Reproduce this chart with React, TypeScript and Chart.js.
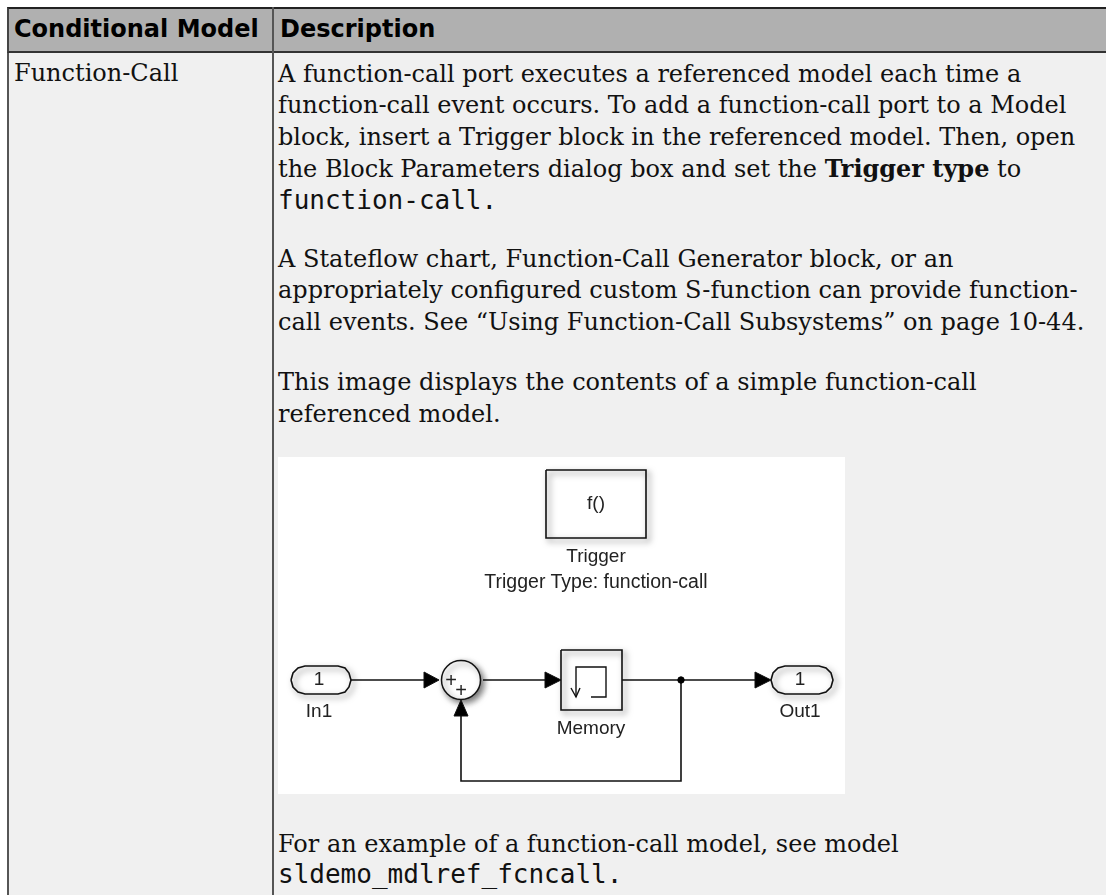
import React, { useEffect, useRef } from "react";
import { Chart, registerables } from "chart.js";

Chart.register(...registerables);

type P = { x: number; y: number };
const pts = (a: number[][]): P[] => a.map(([x, y]) => ({ x, y }));

const headers = ["Conditional Model", "Description"];
const rowLabel = "Function-Call";
const proseTop = [
  { y: 61, t: "A function-call port executes a referenced model each time a" },
  { y: 92, t: "function-call event occurs. To add a function-call port to a Model" },
  { y: 124, t: "block, insert a Trigger block in the referenced model. Then, open" },
  { y: 246, t: "A Stateflow chart, Function-Call Generator block, or an" },
  { y: 277, t: "appropriately configured custom S-function can provide function-" },
  { y: 309, t: "call events. See \u201CUsing Function-Call Subsystems\u201D on page 10-44." },
  { y: 369, t: "This image displays the contents of a simple function-call" },
  { y: 401, t: "referenced model." },
  { y: 831, t: "For an example of a function-call model, see model" },
];

const triggerBox = [[268, 13], [368, 13], [368, 81], [268, 81], [268, 13]];
const memoryBox = [[283, 193], [344, 193], [344, 253], [283, 253], [283, 193]];
const memoryIcon = [[298, 240], [298, 210], [328, 210], [328, 240], [313, 240]];
const memoryIconArrow = [[293, 231], [298, 240], [302, 231]];
const inPort = [[13, 223], [15, 216], [20, 211], [27, 209], [60, 209], [67, 211], [71, 216], [73, 223], [71, 230], [67, 235], [60, 237], [27, 237], [20, 235], [15, 230], [13, 223]];
const outPort = [[493, 223], [495, 216], [500, 211], [507, 209], [541, 209], [548, 211], [553, 216], [555, 223], [553, 230], [548, 235], [541, 237], [507, 237], [500, 235], [495, 230], [493, 223]];
const wireIn = [[73, 223], [150, 223]];
const wireMid = [[205, 223], [272, 223]];
const wireOut = [[344, 223], [480, 223]];
const wireBack = [[403, 223], [403, 324], [183, 324], [183, 256]];
const arrowIn = [[146, 215], [161, 223], [146, 231], [146, 215]];
const arrowMid = [[267, 215], [283, 223], [267, 231], [267, 215]];
const arrowOut = [[477, 215], [493, 223], [477, 231], [477, 215]];
const arrowBack = [[176, 259], [183, 243], [190, 259], [176, 259]];
const sumNode = [[183, 223]];
const junction = [[403, 223]];

const diagramLabels = [
  { x: 318, y: 46, t: "f()", s: 19 },
  { x: 318, y: 99, t: "Trigger", s: 19 },
  { x: 318, y: 124, t: "Trigger Type: function-call", s: 19.5 },
  { x: 41, y: 254, t: "In1", s: 19 },
  { x: 41, y: 222, t: "1", s: 19 },
  { x: 522, y: 254, t: "Out1", s: 19 },
  { x: 522, y: 222, t: "1", s: 19 },
  { x: 313, y: 271, t: "Memory", s: 19 },
  { x: 173, y: 223, t: "+", s: 20 },
  { x: 183, y: 233, t: "+", s: 20 },
];

const line = (data: number[][], extra: object = {}) => ({
  data: pts(data),
  showLine: true,
  pointRadius: 0,
  borderColor: "#111",
  borderWidth: 1.6,
  fill: false,
  ...extra,
});

const shadowPlugin = {
  id: "softShadow",
  beforeDatasetDraw(chart: any, args: any) {
    const ds = chart.data.datasets[args.index];
    if (ds.softShadow) {
      const c = chart.ctx;
      c.save();
      c.shadowColor = "rgba(0,0,0,0.55)";
      c.shadowBlur = 6;
      c.shadowOffsetX = 3;
      c.shadowOffsetY = 3;
    }
  },
  afterDatasetDraw(chart: any, args: any) {
    if (chart.data.datasets[args.index].softShadow) chart.ctx.restore();
  },
};

const serif = '"DejaVu Serif"';

export default function App() {
  const ref = useRef<HTMLCanvasElement>(null);
  useEffect(() => {
    if (!ref.current) return;
    const boxFill = { fill: "shape", backgroundColor: "#fff", softShadow: true };
    const arrow = { fill: "shape", backgroundColor: "#000", borderWidth: 1 };
    // Chart.js paints the first dataset last, so this list runs top mark first.
    const chart = new Chart(ref.current, {
      type: "scatter",
      data: {
        datasets: [
          { data: pts(junction), pointRadius: 3.2, pointBackgroundColor: "#000", pointBorderColor: "#000" },
          line(arrowBack, arrow),
          line(arrowOut, arrow),
          line(arrowMid, arrow),
          line(arrowIn, arrow),
          line(memoryIconArrow, { borderWidth: 1.4 }),
          line(memoryIcon, { borderWidth: 1.4 }),
          line(outPort, boxFill),
          line(inPort, boxFill),
          line(memoryBox, boxFill),
          line(triggerBox, boxFill),
          {
            data: pts(sumNode),
            pointRadius: 19.5,
            pointHoverRadius: 19.5,
            pointBackgroundColor: "#fff",
            pointBorderColor: "#111",
            pointBorderWidth: 1.5,
            softShadow: true,
          },
          line(wireBack),
          line(wireOut),
          line(wireMid),
          line(wireIn),
        ] as any,
      },
      options: {
        animation: false,
        responsive: false,
        events: [],
        layout: { padding: 0, autoPadding: false },
        plugins: { legend: { display: false }, tooltip: { enabled: false } },
        scales: {
          x: { type: "linear", min: 0, max: 567, display: false },
          y: { type: "linear", min: 0, max: 337, reverse: true, display: false },
        },
      } as any,
      plugins: [shadowPlugin],
    });
    return () => chart.destroy();
  }, []);

  const text: React.CSSProperties = {
    position: "absolute",
    whiteSpace: "nowrap",
    fontFamily: serif,
    fontSize: 24,
    lineHeight: "26px",
    color: "#111",
  };
  const mono: React.CSSProperties = { fontFamily: '"DejaVu Sans Mono"', fontSize: 26 };

  return (
    <div style={{ position: "fixed", left: 0, top: 0, width: 1106, height: 895, overflow: "hidden", background: "#fff" }}>
      <div style={{ position: "absolute", left: 7, top: 7, width: 1099, height: 46, background: "#b0b0b0", borderTop: "2px solid #222", borderBottom: "2px solid #333", borderLeft: "2px solid #444", boxSizing: "border-box" }} />
      <div style={{ position: "absolute", left: 7, top: 53, width: 1099, height: 842, background: "#f0f0f0", borderLeft: "2px solid #555", boxSizing: "border-box" }} />
      <div style={{ position: "absolute", left: 272, top: 7, width: 2, height: 888, background: "#555" }} />
      <div style={{ ...text, left: 14, top: 16, fontFamily: '"DejaVu Sans"', fontWeight: 700, color: "#000" }}>{headers[0]}</div>
      <div style={{ ...text, left: 280, top: 16, fontFamily: '"DejaVu Sans"', fontWeight: 700, color: "#000" }}>{headers[1]}</div>
      <div style={{ ...text, left: 14, top: 60 }}>{rowLabel}</div>
      {proseTop.map((l) => (
        <div key={l.y} style={{ ...text, left: 278, top: l.y }}>{l.t}</div>
      ))}
      <div style={{ ...text, left: 278, top: 156 }}>
        the Block Parameters dialog box and set the <b>Trigger type</b> to
      </div>
      <div style={{ ...text, left: 278, top: 187 }}>
        <span style={mono}>function-call.</span>
      </div>
      <div style={{ ...text, left: 278, top: 861 }}>
        <span style={mono}>sldemo_mdlref_fcncall.</span>
      </div>
      <div style={{ position: "absolute", left: 278, top: 457, width: 567, height: 337, background: "#fff", filter: "blur(0.7px)" }}>
        <canvas ref={ref} width={567} height={337} style={{ display: "block", width: 567, height: 337 }} />
        {diagramLabels.map((l) => (
          <div
            key={l.t + l.x + l.y}
            style={{
              position: "absolute",
              left: l.x,
              top: l.y,
              transform: "translate(-50%,-50%)",
              fontFamily: '"Liberation Sans"',
              fontSize: l.s,
              color: "#222",
              whiteSpace: "nowrap",
            }}
          >
            {l.t}
          </div>
        ))}
      </div>
    </div>
  );
}
